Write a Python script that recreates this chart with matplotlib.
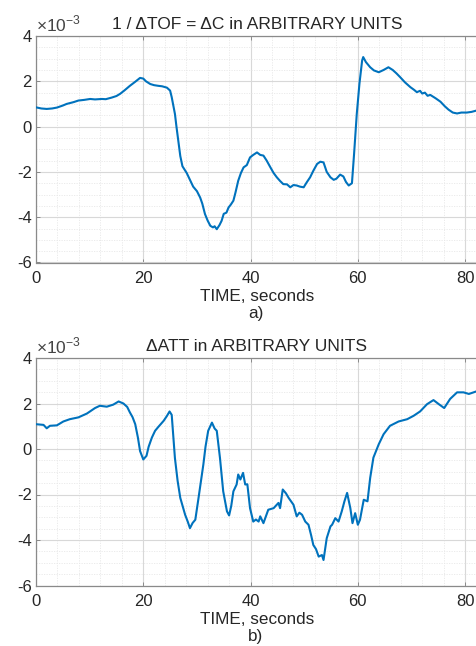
import numpy as np
import matplotlib
matplotlib.use("Agg")
import matplotlib.pyplot as plt
from matplotlib.ticker import MultipleLocator

plt.rcParams['font.family'] = ['Liberation Sans', 'DejaVu Sans']
plt.rcParams['axes.unicode_minus'] = False
plt.rcParams['mathtext.fontset'] = 'custom'
plt.rcParams['mathtext.rm'] = 'Liberation Sans'

# ---- data (values in units of 1e-3) ----
t_a = [0.0, 1.0, 2.0, 3.0, 3.9, 5.0, 5.7, 7.0, 7.9, 9.0, 10.1, 11.0, 12.3, 13.0, 14.1, 15.0,
       15.7, 16.5, 17.5, 18.5, 19.4, 20.0, 20.5, 21.3, 22.0, 22.8, 23.5, 24.4, 25.0, 25.3,
       25.9, 26.2, 26.9, 27.3, 28.1, 28.7, 29.3, 30.0, 30.6, 31.0, 31.5, 32.0, 32.5, 33.0,
       33.3, 33.7, 34.2, 34.6, 35.0, 35.5, 35.9, 36.3, 36.8, 37.2, 37.7, 38.2, 38.7, 39.3,
       39.9, 40.5, 41.2, 41.8, 42.4, 43.0, 43.7, 44.3, 44.9, 45.5, 46.1, 46.8, 47.4, 48.0,
       48.6, 49.2, 49.9, 50.5, 51.1, 51.7, 52.4, 53.0, 53.6, 54.2, 54.9, 55.5, 56.0, 56.7,
       57.3, 57.8, 58.3, 58.9, 59.3, 59.8, 60.3, 60.8, 61.0, 61.5, 62.3, 63.0, 63.9, 64.8,
       65.7, 66.5, 67.2, 67.9, 68.8, 69.8, 70.5, 71.0, 71.6, 72.0, 72.5, 73.0, 73.5, 74.5,
       75.4, 76.2, 76.9, 77.7, 78.5, 79.3, 80.3, 81.2, 82.3]
v_a = [0.85, 0.80, 0.78, 0.80, 0.84, 0.93, 1.00, 1.08, 1.15, 1.18, 1.22, 1.20, 1.22, 1.21,
       1.28, 1.35, 1.45, 1.60, 1.80, 1.98, 2.15, 2.12, 2.00, 1.88, 1.83, 1.80, 1.78, 1.72,
       1.59, 1.30, 0.56, -0.03, -1.30, -1.75, -2.05, -2.35, -2.65, -2.85, -3.13, -3.40,
       -3.86, -4.15, -4.38, -4.45, -4.40, -4.53, -4.35, -4.16, -3.85, -3.80, -3.57, -3.45,
       -3.27, -2.90, -2.39, -2.05, -1.80, -1.70, -1.36, -1.25, -1.14, -1.25, -1.28, -1.50,
       -1.80, -2.05, -2.24, -2.40, -2.54, -2.55, -2.68, -2.58, -2.60, -2.65, -2.68, -2.45,
       -2.24, -1.95, -1.65, -1.55, -1.58, -2.00, -2.24, -2.35, -2.30, -2.12, -2.20, -2.45,
       -2.60, -2.50, -1.20, 0.56, 1.90, 2.92, 3.07, 2.85, 2.62, 2.48, 2.40, 2.50, 2.62,
       2.50, 2.35, 2.18, 1.95, 1.74, 1.62, 1.52, 1.58, 1.46, 1.50, 1.36, 1.40, 1.25,
       1.10, 0.90, 0.75, 0.62, 0.58, 0.62, 0.62, 0.65, 0.72]

t_b = [0.0, 1.4, 2.0, 2.6, 3.9, 5.1, 6.3, 7.9, 9.5, 11.0, 11.9, 13.2, 14.4, 15.4, 16.3, 17.0,
       17.5, 18.0, 18.5, 19.0, 19.4, 20.0, 20.6, 21.0, 21.6, 22.2, 22.8, 23.8, 24.4, 24.9,
       25.3, 25.9, 26.4, 26.9, 27.8, 28.3, 28.7, 29.2, 29.7, 30.3, 31.2, 31.6, 32.1, 32.8,
       33.3, 33.7, 34.3, 34.9, 35.6, 36.0, 36.4, 36.8, 37.4, 37.7, 38.1, 38.6, 39.0, 39.4,
       39.9, 40.5, 41.0, 41.5, 41.8, 42.4, 43.3, 44.3, 45.2, 45.5, 46.0, 46.6, 47.1, 48.0,
       48.6, 49.1, 49.6, 50.2, 50.8, 51.3, 51.7, 52.2, 52.7, 53.3, 53.6, 54.2, 54.9, 55.2,
       55.8, 56.4, 57.0, 57.5, 58.0, 58.6, 59.0, 59.5, 60.0, 60.4, 61.1, 61.8, 62.3, 62.9,
       63.9, 64.8, 66.0, 67.6, 69.2, 70.4, 71.6, 72.9, 74.1, 75.1, 76.1, 77.2, 78.5, 79.7,
       80.7, 82.2]
v_b = [1.09, 1.06, 0.91, 1.02, 1.04, 1.21, 1.31, 1.39, 1.56, 1.80, 1.90, 1.86, 1.95, 2.09,
       2.00, 1.85, 1.61, 1.40, 1.09, 0.50, -0.09, -0.46, -0.30, 0.10, 0.50, 0.80, 0.97,
       1.24, 1.45, 1.65, 1.50, -0.40, -1.40, -2.15, -2.89, -3.20, -3.48, -3.25, -3.11,
       -2.15, -0.68, 0.10, 0.80, 1.16, 0.90, 0.80, -0.40, -1.86, -2.74, -2.92, -2.50,
       -1.86, -1.56, -1.12, -1.34, -1.05, -1.56, -1.55, -2.60, -3.19, -3.10, -3.19, -2.96,
       -3.26, -2.67, -2.60, -2.37, -2.60, -1.78, -1.95, -2.15, -2.45, -2.96, -2.80, -2.89,
       -3.19, -3.33, -3.80, -4.22, -4.40, -4.73, -4.66, -4.88, -3.92, -3.40, -3.33, -3.04,
       -3.19, -2.74, -2.30, -1.93, -2.60, -3.26, -2.82, -3.33, -3.11, -2.23, -2.30, -1.27,
       -0.38, 0.21, 0.65, 1.02, 1.21, 1.31, 1.46, 1.65, 1.97, 2.15, 1.97, 1.80, 2.20, 2.49,
       2.49, 2.42, 2.54]

titles = ["1 / \u0394TOF = \u0394C in ARBITRARY UNITS", "\u0394ATT in ARBITRARY UNITS"]
sublabels = ["a)", "b)"]
xticks = [0, 20, 40, 60, 80]
yticks = [-6, -4, -2, 0, 2, 4]

W, H = 477, 646
fig = plt.figure(figsize=(W / 100, H / 100), dpi=100)
fig.patch.set_facecolor('white')

txt = '#262626'
line_c = '#0072BD'

boxes = [(36, 36, 262.5), (36, 358, 585.5)]  # left, top, bottom in px
series = [(t_a, v_a), (t_b, v_b)]

for i, ((lx, top, bot), (t, v)) in enumerate(zip(boxes, series)):
    ax = fig.add_axes([lx / W, 1 - bot / H, (W - lx + 1) / W, (bot - top) / H])
    ax.plot(t, v, color=line_c, lw=1.5, zorder=3)
    ax.set_xlim(0, 82.4)
    ax.set_ylim(-6, 4)
    ax.set_xticks(xticks)
    ax.set_yticks(yticks)
    ax.xaxis.set_minor_locator(MultipleLocator(4))
    ax.yaxis.set_minor_locator(MultipleLocator(0.5))
    ax.grid(True, which='major', color='#d8d8d8', lw=0.8)
    ax.grid(True, which='minor', color='#e8e8e8', lw=0.6, ls=(0, (1.5, 1.5)))
    ax.set_axisbelow(True)
    for s in ax.spines.values():
        s.set_color('#8a8a8a')
        s.set_linewidth(0.9)
    ax.tick_params(which='major', direction='in', length=3, width=0.7, color='#8a8a8a',
                   top=True, right=False, labelsize=12, labelcolor=txt)
    ax.tick_params(axis='x', which='major', pad=6)
    ax.tick_params(axis='y', which='major', pad=3)
    ax.tick_params(which='minor', length=0)
    ax.set_xlabel("TIME, seconds", fontsize=12.3, color=txt, labelpad=2)
    ax.set_title(titles[i], fontsize=12.5, color=txt, pad=5)
    ax.text(0.0, 1.005, r"$\times10^{-3}$", transform=ax.transAxes, fontsize=12.5,
            color='#444444', ha='left', va='bottom')
    fig.text((lx + (W - lx) * 0.5 - 1) / W, 1 - (bot + 51) / H, sublabels[i], fontsize=12.3,
             color=txt, ha='center', va='center')

fig.savefig('out.png', dpi=100, facecolor='white')
